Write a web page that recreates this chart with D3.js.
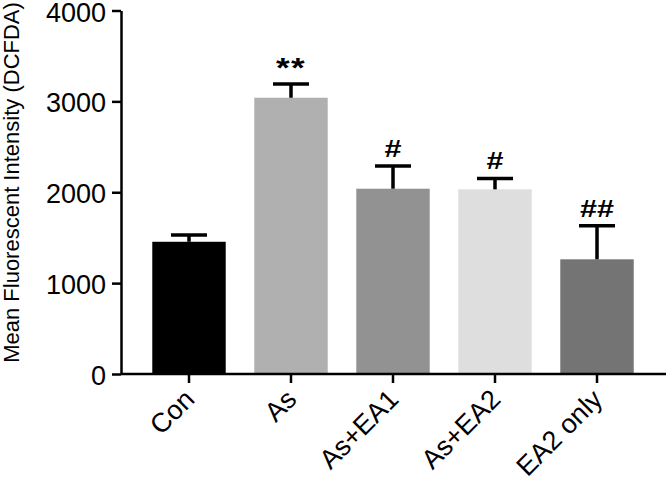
<!DOCTYPE html>
<html><head><meta charset="utf-8">
<script src="https://cdn.jsdelivr.net/npm/d3@7"></script>
<style>body{margin:0;background:#fff}svg{display:block}text{font-family:"Liberation Sans",Arial,sans-serif}</style>
</head><body>
<svg id="c" width="666" height="480"></svg>
<script>
const categories = ["Con", "As", "As+EA1", "As+EA2", "EA2 only"];
const means = [1455, 3040, 2039, 2032, 1262];
const errors = [75, 150, 250, 120, 370];
const marks = ["", "**", "#", "#", "##"];
const colors = ["#000000", "#b0b0b0", "#929292", "#dedede", "#747474"];
const yTicks = [0, 1000, 2000, 3000, 4000];
const yLabel = "Mean Fluorescent Intensity (DCFDA)";

const svg = d3.select("#c");
const y = d3.scaleLinear().domain([0, 4000]).range([374, 10.5]);
const x = d3.scaleBand().domain(categories).range([138, 648]).paddingInner(0.28).paddingOuter(0.14);
const axisX0 = 121, axisXEnd = 666;

// bars
svg.append("g").selectAll("rect").data(categories).join("rect")
  .attr("x", d => x(d)).attr("width", x.bandwidth())
  .attr("y", (d, i) => y(means[i])).attr("height", (d, i) => y(0) - y(means[i]))
  .attr("fill", (d, i) => colors[i]);

// error bars
const eb = svg.append("g").attr("stroke", "#000").attr("stroke-width", 3.5).attr("fill", "none");
categories.forEach((c, i) => {
  const cx = x(c) + x.bandwidth() / 2;
  eb.append("line").attr("x1", cx).attr("x2", cx).attr("y1", y(means[i])).attr("y2", y(means[i] + errors[i]));
  eb.append("line").attr("x1", cx - 18).attr("x2", cx + 18).attr("y1", y(means[i] + errors[i])).attr("y2", y(means[i] + errors[i]));
});

// significance marks
svg.append("g").selectAll("text").data(categories).join("text")
  .attr("transform", (d, i) => {
    const cx = x(d) + x.bandwidth() / 2;
    const top = y(means[i] + errors[i]);
    return `translate(${cx},${top - (marks[i] === "**" ? 7 : 9)}) scale(1.3,1)`;
  })
  .attr("text-anchor", "middle")
  .attr("font-weight", "bold")
  .attr("font-size", (d, i) => marks[i] === "**" ? 27 : 23.5)
  .attr("letter-spacing", (d, i) => marks[i] === "**" ? "1px" : "0px")
  .text((d, i) => marks[i]);

// y axis
const gy = svg.append("g").attr("transform", `translate(${axisX0},0)`)
  .call(d3.axisLeft(y).tickValues(yTicks).tickFormat(d3.format("d")).tickSize(9).tickPadding(6).tickSizeOuter(0));
gy.select(".domain").attr("stroke-width", 2.5);
gy.selectAll(".tick line").attr("stroke-width", 2.5);
gy.selectAll(".tick text").attr("font-size", 27).attr("fill", "#000").attr("dy", "0.39em")
  .attr("font-family", '"Liberation Sans",Arial,sans-serif');

// x axis
const gx = svg.append("g").attr("transform", `translate(0,${y(0)})`)
  .call(d3.axisBottom(x).tickSize(9).tickSizeOuter(0));
gx.select(".domain").attr("d", `M${axisX0},0H${axisXEnd}`).attr("stroke-width", 2.5);
gx.selectAll(".tick line").attr("stroke-width", 2.5);
gx.selectAll(".tick text")
  .attr("font-size", 27).attr("fill", "#000").attr("font-family", '"Liberation Sans",Arial,sans-serif')
  .attr("text-anchor", "end").attr("y", 0).attr("dy", 0)
  .attr("transform", "translate(7,27) rotate(-45)");

// y label
svg.append("text")
  .attr("transform", "translate(18.5,182.5) rotate(-90)")
  .attr("text-anchor", "middle").attr("font-size", 22).attr("fill", "#000")
  .text(yLabel);
</script>
</body></html>
